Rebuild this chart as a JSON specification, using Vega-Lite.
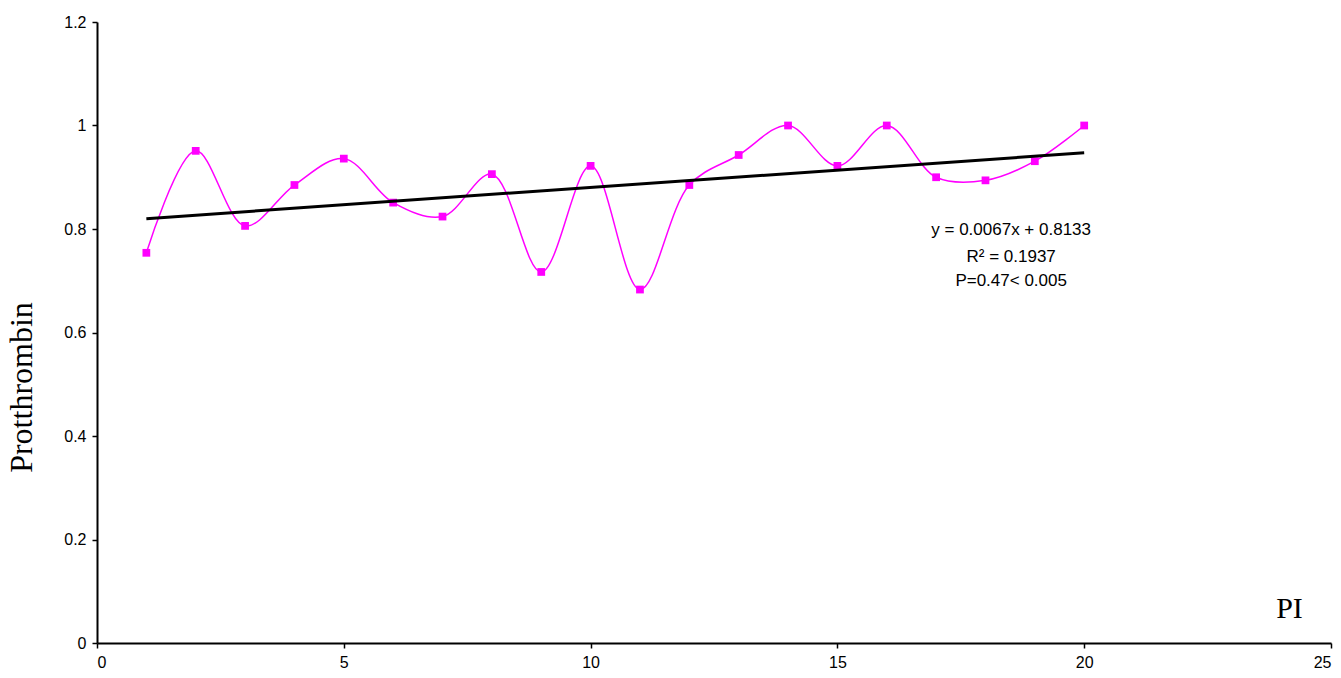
{
  "$schema": "https://vega.github.io/schema/vega-lite/v6.json",
  "width": 1234,
  "height": 621,
  "autosize": {"type": "none"},
  "padding": {"left": 97, "top": 22, "right": 10, "bottom": 35},
  "background": "white",
  "config": {
    "view": {"stroke": null},
    "axis": {
      "grid": false,
      "domainColor": "black",
      "domainWidth": 2,
      "tickColor": "black",
      "tickWidth": 1.5,
      "tickSize": 5,
      "labelFont": "Liberation Sans",
      "labelFontSize": 16,
      "labelColor": "black",
      "titleFont": "Liberation Serif",
      "titleFontWeight": "normal",
      "titleColor": "black"
    }
  },
  "datasets": {
    "points": [
      {"PI": 1, "Prothrombin": 0.754},
      {"PI": 2, "Prothrombin": 0.951},
      {"PI": 3, "Prothrombin": 0.806},
      {"PI": 4, "Prothrombin": 0.885},
      {"PI": 5, "Prothrombin": 0.936},
      {"PI": 6, "Prothrombin": 0.851},
      {"PI": 7, "Prothrombin": 0.824},
      {"PI": 8, "Prothrombin": 0.906},
      {"PI": 9, "Prothrombin": 0.717},
      {"PI": 10, "Prothrombin": 0.922},
      {"PI": 11, "Prothrombin": 0.683},
      {"PI": 12, "Prothrombin": 0.885},
      {"PI": 13, "Prothrombin": 0.943},
      {"PI": 14, "Prothrombin": 1.0},
      {"PI": 15, "Prothrombin": 0.922},
      {"PI": 16, "Prothrombin": 1.0},
      {"PI": 17, "Prothrombin": 0.9},
      {"PI": 18, "Prothrombin": 0.894},
      {"PI": 19, "Prothrombin": 0.931},
      {"PI": 20, "Prothrombin": 1.0}
    ],
    "trend": [
      {"PI": 1, "Prothrombin": 0.82},
      {"PI": 20, "Prothrombin": 0.9473}
    ],
    "notes": [
      {"PI": 18.52, "Prothrombin": 0.798, "label": "y = 0.0067x + 0.8133"},
      {"PI": 18.52, "Prothrombin": 0.746, "label": "R² = 0.1937"},
      {"PI": 18.52, "Prothrombin": 0.7, "label": "P=0.47< 0.005"}
    ]
  },
  "encoding": {
    "x": {
      "field": "PI",
      "type": "quantitative",
      "scale": {"domain": [0, 25], "nice": false},
      "axis": {
        "values": [0, 5, 10, 15, 20, 25],
        "format": "~g",
        "title": "PI",
        "titleFontSize": 30,
        "titleAnchor": "end",
        "titleAlign": "center",
        "titleX": 1192,
        "titleY": -20,
        "titleBaseline": "bottom",
        "labelPadding": 6
      }
    },
    "y": {
      "field": "Prothrombin",
      "type": "quantitative",
      "scale": {"domain": [0, 1.2], "nice": false},
      "axis": {
        "values": [0, 0.2, 0.4, 0.6, 0.8, 1, 1.2],
        "format": "~g",
        "title": "Protthrombin",
        "titleFontSize": 32,
        "titleX": -66,
        "titleY": 365,
        "titleAlign": "center",
        "titleBaseline": "alphabetic",
        "labelPadding": 6
      }
    }
  },
  "layer": [
    {
      "data": {"name": "points"},
      "mark": {"type": "line", "interpolate": "catmull-rom", "color": "#FF00FF", "strokeWidth": 1.5},
      "encoding": {}
    },
    {
      "data": {"name": "points"},
      "mark": {"type": "point", "shape": "square", "filled": true, "color": "#FF00FF", "size": 60, "opacity": 1}
    },
    {
      "data": {"name": "trend"},
      "mark": {"type": "line", "color": "black", "strokeWidth": 3},
      "encoding": {}
    },
    {
      "data": {"name": "notes"},
      "mark": {"type": "text", "font": "Liberation Sans", "fontSize": 17, "color": "black", "align": "center", "baseline": "middle"},
      "encoding": {"text": {"field": "label"}}
    }
  ]
}
